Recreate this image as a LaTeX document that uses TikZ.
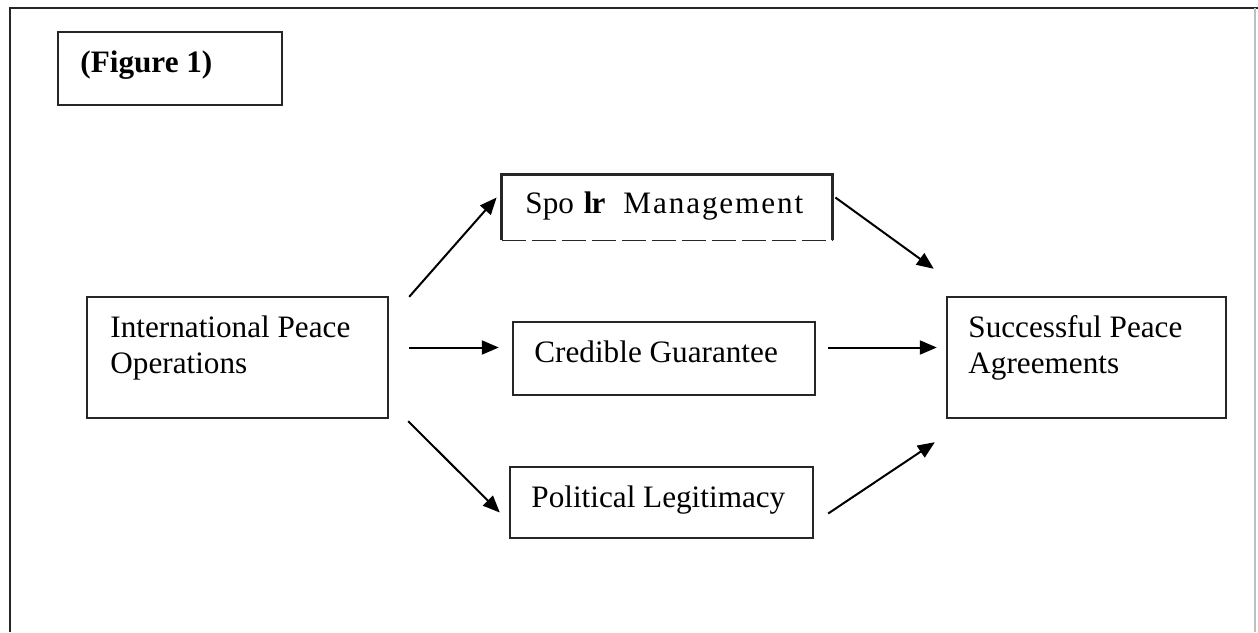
\documentclass[tikz,border=0pt]{standalone}
\usepackage{fontspec}
\setmainfont{Liberation Serif}
\usetikzlibrary{arrows.meta,calc}
\tikzset{
  box/.style={draw=black!85,line width=1.2pt,rectangle,inner sep=0pt},
  txt/.style={anchor=base west,inner sep=0pt,font=\fontsize{15.6}{18}\selectfont,align=left},
  conn/.style={line width=1pt,-{Triangle[length=8.5pt,width=7pt]}},
  frame/.style={line width=1.3pt,draw=black!85}
}
\begin{document}
\begin{tikzpicture}[x=0.5pt,y=-0.5pt]
\useasboundingbox (0,0) rectangle (1258,632);
% outer frame
\draw[frame] (10,632) -- (10,8) -- (1258,8);
\draw[line width=0.6pt,draw=black!25] (1255,8) -- (1255,632);
% boxes
\node[box,minimum width=112pt,minimum height=36.5pt] (fig) at (170,68.5) {};
\node[rectangle,inner sep=0pt,minimum width=165pt,minimum height=32.5pt] (spo) at (667,207.5) {};
\draw[line width=1.2pt,draw=black!85] (spo.south west) -- (spo.north west) -- (spo.north east) -- (spo.south east);
\draw[line width=0.9pt,draw=black!85,dash pattern=on 12pt off 3pt] (spo.south west) -- (spo.south east);
\node[box,minimum width=150.5pt,minimum height=60.5pt] (ipo) at (237.5,357.5) {};
\node[box,minimum width=151pt,minimum height=36.5pt] (cg) at (664,358.5) {};
\node[box,minimum width=151.5pt,minimum height=35.5pt] (pl) at (661.5,502.5) {};
\node[box,minimum width=139.5pt,minimum height=60.5pt] (spa) at (1086.5,357.5) {};
% texts
\node[txt,font=\fontsize{15.6}{18}\selectfont\bfseries] (figt) at (80,72) {(Figure 1)};
\node[txt] (spot) at (525,213) {Spo\hspace{5pt}\textbf{l\kern-0.5pt r}\hspace{9pt}{\addfontfeature{LetterSpace=6}Management}};
\node[txt] (ipot1) at (110,337) {International Peace};
\node[txt] (ipot2) at (110,373) {Operations};
\node[txt] (cgt) at (534,362) {Credible Guarantee};
\node[txt] (plt) at (531,507) {Political Legitimacy};
\node[txt] (spat1) at (968,337) {Successful Peace};
\node[txt] (spat2) at (968,373) {Agreements};
% connectors
\draw[conn] ($(ipo.north east)+(20,1)$) -- ($(spo.west)+(-5,-10)$);
\draw[conn] ($(ipo.east)+(20,-10)$) -- ($(cg.west)+(-13,-11)$);
\draw[conn] ($(ipo.south east)+(19,2)$) -- ($(pl.west)+(-9,10)$);
\draw[conn] ($(spo.east)+(3,-10)$) -- ($(spa.north west)+(-12,-27)$);
\draw[conn] ($(cg.east)+(12,-11)$) -- ($(spa.west)+(-9,-10)$);
\draw[conn] ($(pl.east)+(14,11)$) -- ($(spa.south west)+(-11,23)$);
\end{tikzpicture}
\end{document}
